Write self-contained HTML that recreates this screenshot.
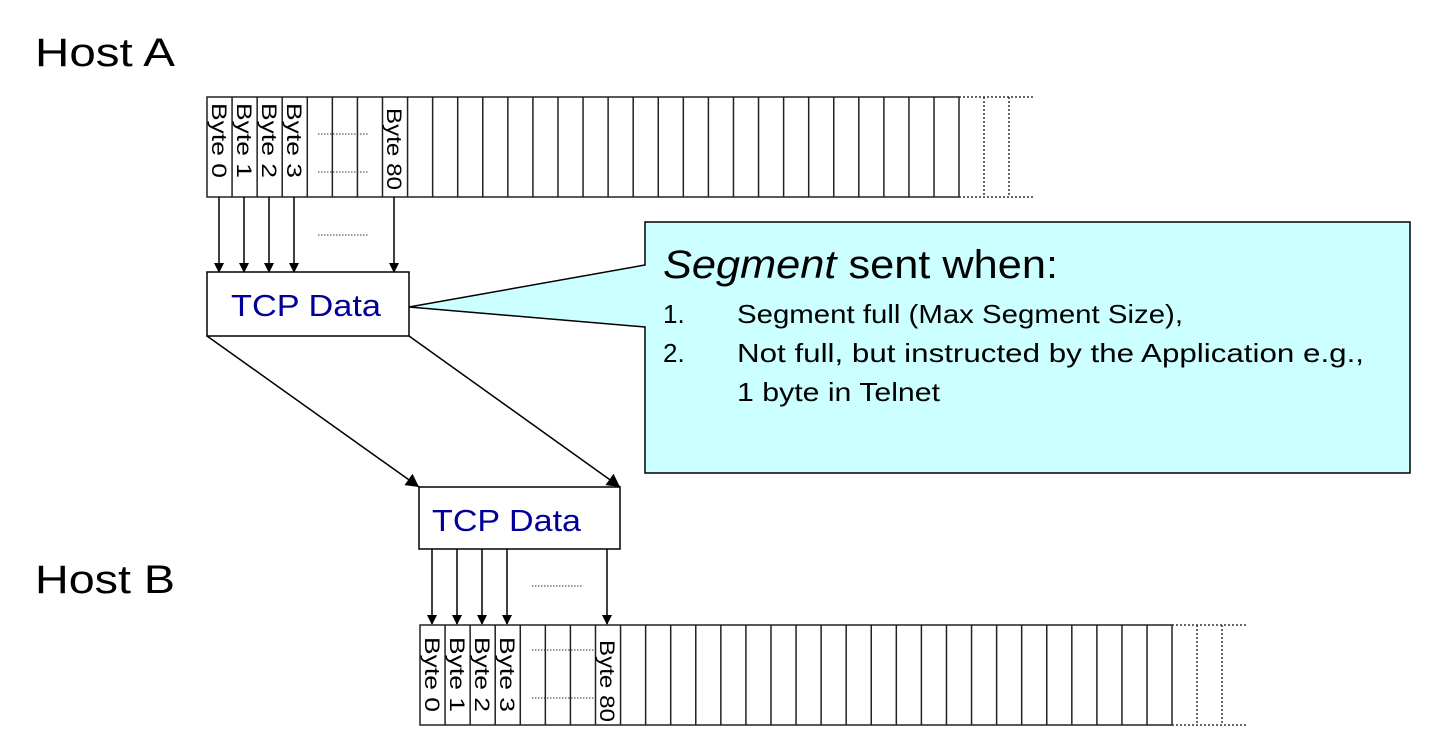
<!DOCTYPE html>
<html><head><meta charset="utf-8"><style>
html,body{margin:0;padding:0;background:#fff;}
svg{display:block;}
text{font-family:"Liberation Sans",sans-serif;}
</style></head><body>
<svg width="1439" height="750" viewBox="0 0 1439 750" xmlns="http://www.w3.org/2000/svg">
<defs>
<marker id="ah" markerWidth="10" markerHeight="10" refX="9" refY="5" orient="auto" markerUnits="userSpaceOnUse">
<path d="M0,0 L10,5 L0,10 z" fill="#000"/>
</marker>
<marker id="ah2" markerWidth="14" markerHeight="14" refX="13" refY="7" orient="auto" markerUnits="userSpaceOnUse">
<path d="M0,0 L13,7 L0,14 z" fill="#000"/>
</marker>
</defs>

<text x="35" y="66" font-size="40" textLength="140" lengthAdjust="spacingAndGlyphs">Host A</text>
<text x="35" y="593" font-size="40" textLength="140" lengthAdjust="spacingAndGlyphs">Host B</text>

<!-- Host A strip -->
<g stroke="#222" stroke-width="1.5" fill="none">
<rect x="207" y="97" width="752" height="100"/>
<path d="M232.07,97v100 m25.07,-100v100 m25.07,-100v100 m25.07,-100v100 m25.07,-100v100 m25.07,-100v100 m25.07,-100v100 m25.07,-100v100 m25.07,-100v100 m25.07,-100v100 m25.07,-100v100 m25.07,-100v100 m25.07,-100v100 m25.07,-100v100 m25.07,-100v100 m25.07,-100v100 m25.07,-100v100 m25.07,-100v100 m25.07,-100v100 m25.07,-100v100 m25.07,-100v100 m25.07,-100v100 m25.07,-100v100 m25.07,-100v100 m25.07,-100v100 m25.07,-100v100 m25.07,-100v100 m25.07,-100v100 m25.07,-100v100"/>
</g>
<g stroke="#333" stroke-width="1.5" stroke-dasharray="2,2" fill="none">
<path d="M959,97H1035 M959,197H1035 M984,97V197 M1009,97V197"/>
</g>
<g stroke="#333" stroke-width="1" stroke-dasharray="1.5,1.5">
<path d="M318,134H368 M318,172H368 M318,235H368"/>
</g>
<g font-size="21">
<text transform="translate(212,103) rotate(90)" textLength="75" lengthAdjust="spacingAndGlyphs">Byte 0</text>
<text transform="translate(237,103) rotate(90)" textLength="75" lengthAdjust="spacingAndGlyphs">Byte 1</text>
<text transform="translate(262,103) rotate(90)" textLength="75" lengthAdjust="spacingAndGlyphs">Byte 2</text>
<text transform="translate(287,103) rotate(90)" textLength="75" lengthAdjust="spacingAndGlyphs">Byte 3</text>
<text transform="translate(387,108) rotate(90)" textLength="82" lengthAdjust="spacingAndGlyphs">Byte 80</text>
</g>
<g stroke="#000" stroke-width="1.5" marker-end="url(#ah)">
<line x1="219" y1="197" x2="219" y2="272"/>
<line x1="244" y1="197" x2="244" y2="272"/>
<line x1="269" y1="197" x2="269" y2="272"/>
<line x1="294" y1="197" x2="294" y2="272"/>
<line x1="394" y1="197" x2="394" y2="272"/>
</g>

<!-- callout -->
<path d="M645,222 H1410 V473 H645 V327 L409,307 L645,265 Z" fill="#ccffff" stroke="#000" stroke-width="1.5"/>
<text x="663" y="278" font-size="40" textLength="395" lengthAdjust="spacingAndGlyphs"><tspan font-style="italic">Segment</tspan> sent when:</text>
<g font-size="26">
<text x="663" y="323">1.</text>
<text x="737" y="323" textLength="446" lengthAdjust="spacingAndGlyphs">Segment full (Max Segment Size),</text>
<text x="663" y="362">2.</text>
<text x="737" y="362" textLength="627" lengthAdjust="spacingAndGlyphs">Not full, but instructed by the Application e.g.,</text>
<text x="737" y="401" textLength="203" lengthAdjust="spacingAndGlyphs">1 byte in Telnet</text>
</g>

<!-- TCP Data top -->
<rect x="207" y="272" width="202" height="64" fill="#fff" stroke="#000" stroke-width="1.5"/>
<text x="231" y="316" font-size="31" fill="#000099" textLength="150" lengthAdjust="spacingAndGlyphs">TCP Data</text>

<g stroke="#000" stroke-width="1.5" marker-end="url(#ah2)">
<line x1="207" y1="336" x2="419" y2="487"/>
<line x1="409" y1="336" x2="620" y2="487"/>
</g>

<!-- TCP Data bottom -->
<rect x="419" y="487" width="201" height="62" fill="#fff" stroke="#000" stroke-width="1.5"/>
<text x="432" y="531" font-size="31" fill="#000099" textLength="149" lengthAdjust="spacingAndGlyphs">TCP Data</text>

<g stroke="#000" stroke-width="1.5" marker-end="url(#ah)">
<line x1="432" y1="549" x2="432" y2="624"/>
<line x1="457" y1="549" x2="457" y2="624"/>
<line x1="482" y1="549" x2="482" y2="624"/>
<line x1="507" y1="549" x2="507" y2="624"/>
<line x1="607" y1="549" x2="607" y2="624"/>
</g>

<!-- Host B strip -->
<g stroke="#222" stroke-width="1.5" fill="none">
<rect x="420" y="625" width="752" height="100"/>
<path d="M445.07,625v100 m25.07,-100v100 m25.07,-100v100 m25.07,-100v100 m25.07,-100v100 m25.07,-100v100 m25.07,-100v100 m25.07,-100v100 m25.07,-100v100 m25.07,-100v100 m25.07,-100v100 m25.07,-100v100 m25.07,-100v100 m25.07,-100v100 m25.07,-100v100 m25.07,-100v100 m25.07,-100v100 m25.07,-100v100 m25.07,-100v100 m25.07,-100v100 m25.07,-100v100 m25.07,-100v100 m25.07,-100v100 m25.07,-100v100 m25.07,-100v100 m25.07,-100v100 m25.07,-100v100 m25.07,-100v100 m25.07,-100v100"/>
</g>
<g stroke="#333" stroke-width="1.5" stroke-dasharray="2,2" fill="none">
<path d="M1172,625H1248 M1172,725H1248 M1197,625V725 M1222,625V725"/>
</g>
<g stroke="#333" stroke-width="1" stroke-dasharray="1.5,1.5">
<path d="M532,586H582 M532,650H595 M532,698H595"/>
</g>
<g font-size="21">
<text transform="translate(425,637) rotate(90)" textLength="75" lengthAdjust="spacingAndGlyphs">Byte 0</text>
<text transform="translate(450,637) rotate(90)" textLength="75" lengthAdjust="spacingAndGlyphs">Byte 1</text>
<text transform="translate(475,637) rotate(90)" textLength="75" lengthAdjust="spacingAndGlyphs">Byte 2</text>
<text transform="translate(500,637) rotate(90)" textLength="75" lengthAdjust="spacingAndGlyphs">Byte 3</text>
<text transform="translate(600,640) rotate(90)" textLength="82" lengthAdjust="spacingAndGlyphs">Byte 80</text>
</g>
</svg>
</body></html>
